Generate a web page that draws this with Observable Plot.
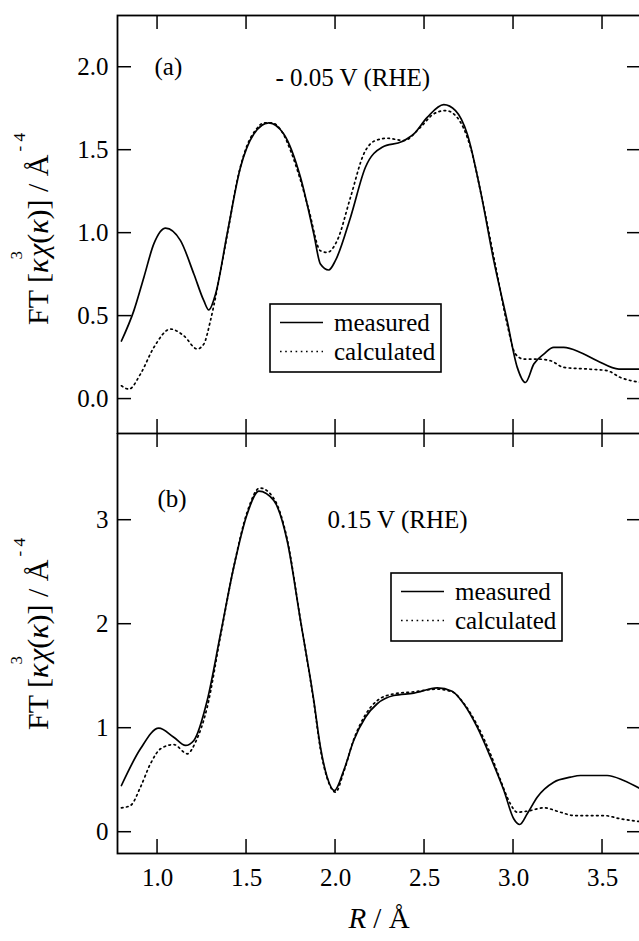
<!DOCTYPE html>
<html>
<head>
<meta charset="utf-8">
<script src="https://cdn.jsdelivr.net/npm/d3@7"></script>
<script src="https://cdn.jsdelivr.net/npm/@observablehq/plot@0.6"></script>
<style>
  html, body { margin: 0; padding: 0; background: #fff; overflow: hidden; }
  #wrap { position: relative; width: 639px; height: 941px; }
  #wrap svg { position: absolute; left: 0; }
  #wrap svg, #wrap svg text, #wrap svg tspan { font-family: "Liberation Serif", "Times New Roman", Times, "DejaVu Serif", serif !important; }
</style>
</head>
<body>
<div id="wrap"></div>
<script>
// ---------- data ----------
const xTicks = [1.0, 1.5, 2.0, 2.5, 3.0, 3.5];
const yTicksA = [0, 0.5, 1.0, 1.5, 2.0];
const yTicksB = [0, 1, 2, 3];
const panelTags = ["(a)", "(b)"];
const potentials = ["- 0.05 V (RHE)", "0.15 V (RHE)"];
const seriesNames = ["measured", "calculated"];

// panel (a) measured
const rMeasA = [0.797, 0.867, 0.923, 0.979, 1.045, 1.129, 1.204, 1.260, 1.288, 1.326, 1.391, 1.466, 1.541, 1.625, 1.709, 1.803, 1.878, 1.915, 1.962, 1.999, 2.084, 2.168, 2.262, 2.374, 2.440, 2.515, 2.608, 2.674, 2.740, 2.814, 2.889, 2.964, 3.021, 3.067, 3.114, 3.170, 3.226, 3.282, 3.376, 3.470, 3.592, 3.720];
const fMeasA = [0.350, 0.533, 0.733, 0.935, 1.030, 0.955, 0.754, 0.593, 0.537, 0.633, 0.995, 1.397, 1.598, 1.665, 1.598, 1.337, 0.995, 0.814, 0.778, 0.834, 1.095, 1.397, 1.518, 1.552, 1.598, 1.698, 1.775, 1.739, 1.598, 1.256, 0.834, 0.472, 0.191, 0.100, 0.211, 0.271, 0.311, 0.311, 0.281, 0.231, 0.181, 0.181];
// panel (a) calculated
const rCalcA = [0.797, 0.839, 0.904, 0.979, 1.073, 1.147, 1.223, 1.260, 1.297, 1.316, 1.350, 1.400, 1.450, 1.500, 1.550, 1.600, 1.640, 1.700, 1.750, 1.800, 1.850, 1.915, 1.953, 2.009, 2.084, 2.159, 2.224, 2.290, 2.384, 2.477, 2.552, 2.618, 2.683, 2.758, 2.833, 2.908, 2.964, 3.011, 3.058, 3.133, 3.208, 3.282, 3.414, 3.526, 3.601, 3.720];
const fCalcA = [0.080, 0.060, 0.151, 0.311, 0.422, 0.382, 0.302, 0.332, 0.472, 0.563, 0.750, 1.040, 1.330, 1.520, 1.620, 1.665, 1.665, 1.610, 1.490, 1.330, 1.140, 0.894, 0.884, 0.955, 1.216, 1.478, 1.558, 1.572, 1.558, 1.638, 1.719, 1.739, 1.698, 1.518, 1.156, 0.754, 0.452, 0.271, 0.241, 0.241, 0.231, 0.191, 0.181, 0.171, 0.130, 0.100];

// panel (b) measured
const rMeasB = [0.797, 0.904, 1.007, 1.091, 1.157, 1.204, 1.279, 1.354, 1.428, 1.504, 1.569, 1.653, 1.728, 1.803, 1.878, 1.915, 1.953, 1.994, 2.046, 2.102, 2.168, 2.234, 2.327, 2.440, 2.571, 2.655, 2.720, 2.796, 2.871, 2.946, 3.001, 3.035, 3.077, 3.133, 3.226, 3.320, 3.376, 3.526, 3.619, 3.720];
const fMeasB = [0.449, 0.802, 1.000, 0.913, 0.834, 0.882, 1.266, 1.908, 2.548, 3.062, 3.279, 3.189, 2.805, 2.036, 1.266, 0.820, 0.529, 0.401, 0.593, 0.882, 1.106, 1.235, 1.314, 1.337, 1.388, 1.356, 1.235, 1.010, 0.721, 0.401, 0.129, 0.074, 0.177, 0.337, 0.481, 0.529, 0.545, 0.545, 0.497, 0.410];
// panel (b) calculated
const rCalcB = [0.797, 0.848, 0.904, 0.960, 1.017, 1.091, 1.167, 1.213, 1.279, 1.354, 1.428, 1.504, 1.575, 1.653, 1.728, 1.803, 1.878, 1.915, 1.953, 2.000, 2.046, 2.102, 2.168, 2.234, 2.327, 2.440, 2.571, 2.655, 2.720, 2.796, 2.871, 2.927, 2.980, 3.021, 3.077, 3.170, 3.264, 3.339, 3.507, 3.601, 3.720];
const fCalcB = [0.234, 0.257, 0.433, 0.658, 0.802, 0.843, 0.754, 0.865, 1.202, 1.890, 2.550, 3.080, 3.310, 3.210, 2.820, 2.040, 1.250, 0.800, 0.520, 0.385, 0.580, 0.890, 1.130, 1.265, 1.330, 1.350, 1.375, 1.350, 1.240, 1.030, 0.750, 0.500, 0.280, 0.192, 0.202, 0.234, 0.192, 0.160, 0.160, 0.129, 0.100];

// ---------- drawing ----------
const FONT = "'Liberation Serif', 'Times New Roman', Times, 'DejaVu Serif', serif";
const X_DOMAIN = [0.775, 3.719];
const DOTS = "1.6,3.6";
const TICK = 14;
const wrap = document.getElementById("wrap");

function makePanel(o) {
  const meas = o.r1.map((R, i) => ({R, F: o.f1[i], s: seriesNames[0]}));
  const calc = o.r2.map((R, i) => ({R, F: o.f2[i], s: seriesNames[1]}));
  const marks = [
    Plot.axisY(o.yTicks, {anchor: "left", tickSize: 0, tickPadding: 9, tickFormat: o.fmt, label: null}),
    Plot.frame({stroke: "#000", strokeWidth: 1.8}),
    Plot.line(meas, {x: "R", y: "F", stroke: "#000", strokeWidth: 1.7, curve: "monotone-x", clip: true}),
    Plot.line(calc, {x: "R", y: "F", stroke: "#000", strokeWidth: 1.7, strokeDasharray: DOTS,
      curve: "monotone-x", clip: true}),
    Plot.text([o.tag], {text: d => d, frameAnchor: "top-left", textAnchor: "start", lineAnchor: "top",
      dx: o.tagDx, dy: o.tagDy, fill: "#000", fontSize: 25}),
    Plot.text([o.potential], {text: d => d, frameAnchor: "top-left", textAnchor: "start", lineAnchor: "top",
      dx: o.potDx, dy: o.potDy, fill: "#000", fontSize: 25})
  ];
  if (o.showX) marks.unshift(Plot.axisX(xTicks, {anchor: "bottom", tickSize: 0, tickPadding: 15,
    label: null, tickFormat: d => d.toFixed(1)}));
  const svg = Plot.plot({
    width: 639,
    height: o.height,
    marginLeft: 117,
    marginRight: -2,
    marginTop: o.marginTop,
    marginBottom: o.marginBottom,
    style: {fontFamily: FONT, fontSize: "25px", color: "#000", background: "transparent"},
    x: {domain: X_DOMAIN, axis: o.showX ? undefined : null},
    y: {domain: o.yDomain},
    marks
  });
  svg.style.top = o.top + "px";
  wrap.appendChild(svg);
  const s = d3.select(svg);

  // inward ticks on all four sides, placed with Plot's own scales
  const sx = svg.scale("x"), sy = svg.scale("y");
  const [x0, x1] = sx.range;
  const [yb, yt] = sy.range; // bottom, top pixel
  const tg = s.append("g").attr("stroke", "#000").attr("stroke-width", 1.5);
  xTicks.forEach(v => {
    const px = sx.apply(v);
    tg.append("line").attr("x1", px).attr("x2", px).attr("y1", yt).attr("y2", yt + TICK);
    tg.append("line").attr("x1", px).attr("x2", px).attr("y1", yb - TICK).attr("y2", yb);
  });
  o.yTicks.forEach(v => {
    const py = sy.apply(v);
    tg.append("line").attr("x1", x0).attr("x2", x0 + TICK).attr("y1", py).attr("y2", py);
    tg.append("line").attr("x1", x1 - TICK).attr("x2", x1).attr("y1", py).attr("y2", py);
  });

  // y-axis title
  const t = s.append("text")
    .attr("transform", `translate(48,${o.yLabelCy}) rotate(-90)`)
    .attr("text-anchor", "middle")
    .attr("font-size", 30).attr("fill", "#000");
  t.append("tspan").text("FT [");
  t.append("tspan").attr("font-style", "italic").text("κ");
  t.append("tspan").attr("font-size", 17).attr("dy", -26).attr("dx", -1).text("3");
  t.append("tspan").attr("dy", 26).attr("dx", -6).attr("font-style", "italic").text("χ");
  t.append("tspan").text("(");
  t.append("tspan").attr("font-style", "italic").text("κ");
  t.append("tspan").text(")] / Å");
  t.append("tspan").attr("font-size", 17).attr("dy", -23).attr("dx", 3).text("- 4");

  // legend box
  const L = o.legend;
  const g = s.append("g").attr("font-size", 25).attr("fill", "#000").attr("text-anchor", "start");
  g.append("rect").attr("x", L.x).attr("y", L.y).attr("width", 171).attr("height", 68)
    .attr("fill", "#fff").attr("stroke", "#000").attr("stroke-width", 1.6);
  [0, 1].forEach(i => {
    const ly = L.y + 18.5 + i * 29;
    g.append("line").attr("x1", L.x + 10).attr("x2", L.x + 53).attr("y1", ly).attr("y2", ly)
      .attr("stroke", "#000").attr("stroke-width", 1.7)
      .attr("stroke-dasharray", i === 1 ? DOTS : null);
    g.append("text").attr("x", L.x + 64).attr("y", ly + 8).attr("text-anchor", "start").text(seriesNames[i]);
  });
  return s;
}

makePanel({
  r1: rMeasA, f1: fMeasA, r2: rCalcA, f2: fCalcA,
  top: 0, height: 434, marginTop: 15, marginBottom: 1,
  yDomain: [-0.2075, 2.3118], yTicks: yTicksA, fmt: d => d.toFixed(1),
  showX: false,
  tag: panelTags[0], tagDx: 37, tagDy: 41.5,
  potential: potentials[0], potDx: 158, potDy: 52.5,
  yLabelCy: 229,
  legend: {x: 270, y: 304}
});

const sb = makePanel({
  r1: rMeasB, f1: fMeasB, r2: rCalcB, f2: fCalcB,
  top: 433, height: 508, marginTop: 0, marginBottom: 88,
  yDomain: [-0.2048, 3.8337], yTicks: yTicksB, fmt: d => d.toFixed(0),
  showX: true,
  tag: panelTags[1], tagDx: 40, tagDy: 56,
  potential: potentials[1], potDx: 210, potDy: 77,
  yLabelCy: 201,
  legend: {x: 391, y: 140}
});

// x-axis title
const xt = sb.append("text").attr("x", 379).attr("y", 495)
  .attr("text-anchor", "middle").attr("font-size", 29).attr("fill", "#000");
xt.append("tspan").attr("font-style", "italic").text("R");
xt.append("tspan").text(" / Å");
</script>
</body>
</html>
